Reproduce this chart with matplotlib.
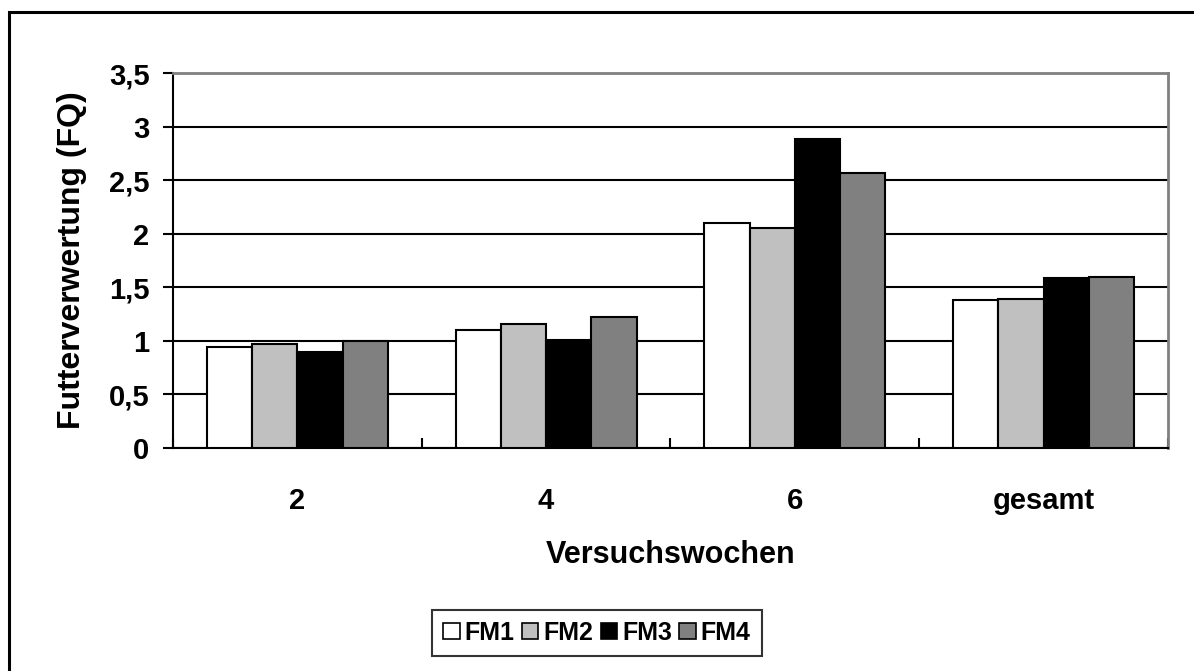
import numpy as np
import matplotlib.pyplot as plt
from matplotlib.patches import Rectangle, Patch

plt.rcParams['font.family'] = ['Liberation Sans', 'DejaVu Sans']
plt.rcParams['font.weight'] = 'bold'

# Futterverwertung je Futtermischung
wochen = ['2', '4', '6', 'gesamt']
serien = ['FM1', 'FM2', 'FM3', 'FM4']
fm1 = [0.94, 1.10, 2.10, 1.38]
fm2 = [0.97, 1.16, 2.05, 1.39]
fm3 = [0.90, 1.01, 2.88, 1.59]
fm4 = [1.00, 1.22, 2.57, 1.60]
farben = ['white', '#c0c0c0', 'black', '#808080']
y_ticks = [0, 0.5, 1, 1.5, 2, 2.5, 3, 3.5]

fig = plt.figure(figsize=(11.94, 6.71), dpi=100)
ax = fig.add_axes([0.1449, 0.3323, 0.8333, 0.5589])

# Rahmen um die ganze Grafik
fig.patches.append(Rectangle((9 / 1194, -0.5), 2, 0.5 + 1 - 12 / 671,
                             transform=fig.transFigure, fill=False,
                             edgecolor='black', linewidth=2.2))

x = np.arange(len(wochen))
breite = 1 / 5.5
for i, (werte, farbe) in enumerate(zip([fm1, fm2, fm3, fm4], farben)):
    ax.bar(x + (i - 1.5) * breite, werte, breite, color=farbe,
           edgecolor='black', linewidth=1.5, zorder=3)

ax.set_xlim(-0.5, len(wochen) - 0.5)
ax.set_ylim(0, 3.5)
ax.set_yticks(y_ticks)
ax.set_yticklabels([f'{v:g}'.replace('.', ',') for v in y_ticks])
ax.yaxis.grid(True, color='black', linewidth=1.5, zorder=0)
ax.set_axisbelow(True)

ax.set_xticks(x)
ax.set_xticklabels(wochen)
ax.set_xticks(np.arange(len(wochen) + 1) - 0.5, minor=True)
ax.tick_params(axis='x', which='major', length=0, pad=28, labelsize=21)
ax.tick_params(axis='x', which='minor', direction='in', length=7, width=1.5)
ax.tick_params(axis='y', direction='out', length=7, width=1.5, pad=10,
               labelsize=21)

for s in ['left', 'bottom']:
    ax.spines[s].set_linewidth(1.5)
for s in ['top', 'right']:
    ax.spines[s].set_color('#808080')
    ax.spines[s].set_linewidth(2)

ax.set_xlabel('Versuchswochen', fontsize=22, fontweight='bold', labelpad=18)
ax.set_ylabel('Futterverwertung (FQ)', fontsize=23, fontweight='bold',
              labelpad=16)

handles = [Patch(facecolor=f, edgecolor='black', linewidth=1.2) for f in farben]
leg = fig.legend(handles, serien, loc='center', bbox_to_anchor=(0.5, 0.057),
                 ncol=4, fontsize=18, frameon=True, fancybox=False,
                 handlelength=0.65, handleheight=0.65, handletextpad=0.2,
                 columnspacing=0.3, borderpad=0.45, borderaxespad=0)
leg.get_frame().set_edgecolor('black')
leg.get_frame().set_linewidth(1.5)
for t in leg.get_texts():
    t.set_fontweight('bold')

fig.savefig('out.png', dpi=100, facecolor='white')
